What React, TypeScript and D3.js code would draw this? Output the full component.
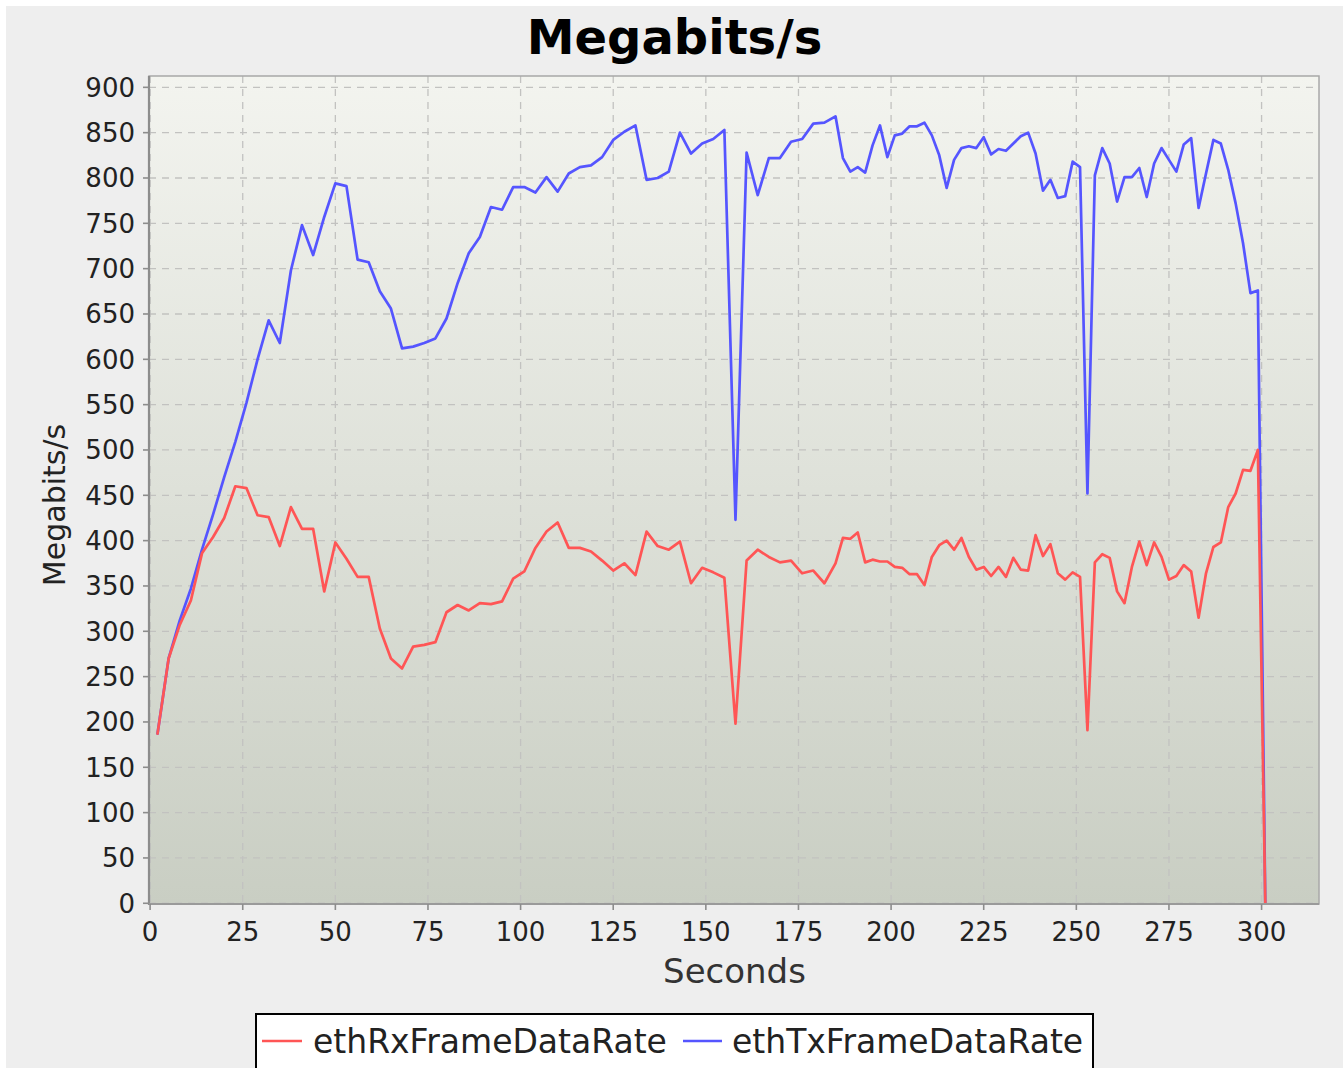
import React from 'react';
import * as d3 from 'd3';

const seconds = [
  2, 5, 8, 11, 14, 17, 20, 23, 26, 29,
  32, 35, 38, 41, 44, 47, 50, 53, 56, 59,
  62, 65, 68, 71, 74, 77, 80, 83, 86, 89,
  92, 95, 98, 101, 104, 107, 110, 113, 116, 119,
  122, 125, 128, 131, 134, 137, 140, 143, 146, 149,
  152, 155, 158, 161, 164, 167, 170, 173, 176, 179,
  182, 185,
  187, 189, 191, 193, 195, 197, 199, 201,
  203, 205, 207, 209, 211, 213, 215, 217, 219, 221,
  223, 225, 227, 229, 231, 233, 235, 237, 239, 241,
  243, 245, 247, 249, 251, 253, 255, 257, 259, 261,
  263, 265, 267, 269, 271, 273, 275, 277, 279, 281,
  283, 285, 287, 289, 291, 293, 295, 297, 299, 301,
];

const ethRxFrameDataRate = [
  187, 270, 307, 334, 386, 404, 425, 460, 458, 428,
  426, 394, 437, 413, 413, 344, 398, 380, 360, 360,
  303, 270, 259, 283, 285, 288, 321, 329, 323, 331,
  330, 333, 358, 366, 392, 410, 420, 392, 392, 388,
  378, 367, 375, 362, 410, 394, 390, 399, 353, 370,
  365, 359, 198, 378, 390, 382, 376, 378, 364, 367,
  353, 375,
  403, 402, 409, 376, 379, 377, 377, 371,
  370, 363, 363, 351, 382, 395, 400, 390, 403, 382,
  368, 371, 361, 371, 360, 381, 368, 367, 406, 383,
  396, 364, 357, 365, 360, 191, 376, 385, 381, 344,
  331, 371, 399, 373, 398, 382, 357, 361, 373, 366,
  315, 364, 393, 398, 437, 452, 478, 477, 500, 0,
];

const ethTxFrameDataRate = [
  187, 270, 312, 347, 390, 429, 470, 509, 552, 600,
  643, 618, 698, 748, 715, 757, 794, 791, 710, 707,
  675, 656, 612, 614, 618, 623, 645, 684, 717, 735,
  768, 765, 790, 790, 784, 801, 785, 805, 812, 814,
  823, 842, 851, 858, 798, 800, 807, 850, 827, 838,
  843, 853, 423, 828, 781, 822, 822, 840, 843, 860,
  861, 868,
  822, 807, 812, 806, 836, 858, 823, 847,
  849, 857, 857, 861, 847, 825, 789, 820, 833, 835,
  833, 845, 826, 832, 830, 838, 846, 850, 827, 786,
  798, 778, 780, 818, 812, 452, 803, 833, 816, 774,
  801, 801, 811, 779, 816, 833, 820, 807, 837, 844,
  767, 805, 842, 838, 809, 772, 728, 673, 676, 0,
];

const xTicks = [0, 25, 50, 75, 100, 125, 150, 175, 200, 225, 250, 275, 300];
const yTicks = [0, 50, 100, 150, 200, 250, 300, 350, 400, 450, 500, 550, 600, 650, 700, 750, 800, 850, 900];
const seriesNames = ['ethRxFrameDataRate', 'ethTxFrameDataRate'];
const seriesColors = ['#FF5555', '#5555FF'];
const titleText = 'Megabits/s';
const xLabel = 'Seconds';
const yLabel = 'Megabits/s';

const FONT = '"DejaVu Sans", sans-serif';

export default function App() {
  const W = 1343;
  const H = 1068;
  const left = 149, right = 1319, top = 76, bottom = 904;
  const x = d3.scaleLinear().domain([-0.3, 315.5]).range([left, right]);
  const y = d3.scaleLinear().domain([-0.8, 912.5]).range([bottom, top]);

  const series = [ethRxFrameDataRate, ethTxFrameDataRate];
  const line = d3.line<number>()
    .x((_, i) => x(seconds[i]))
    .y((d) => y(d));

  const drawOrder = [1, 0];

  return (
    <svg width={W} height={H} style={{ position: 'absolute', left: 0, top: 0, display: 'block' }}
      fontFamily={FONT}>
      <defs>
        <linearGradient id="plotBg" x1="0" y1="0" x2="0" y2="1">
          <stop offset="0" stopColor="#f3f4ef" />
          <stop offset="1" stopColor="#c9cec3" />
        </linearGradient>
        <clipPath id="plotClip">
          <rect x={left} y={top} width={right - left} height={bottom - top} />
        </clipPath>
      </defs>
      <rect x={0} y={0} width={W} height={H} fill="#ffffff" />
      <rect x={6} y={6} width={W - 6} height={H - 6} fill="#eeeeee" />

      <text x={674.5} y={54} textAnchor="middle" fontSize={48} fontWeight="bold" fill="#000">{titleText}</text>

      <rect x={left} y={top} width={right - left} height={bottom - top} fill="url(#plotBg)" />

      {/* gridlines */}
      <g stroke="#c2c2c0" strokeWidth={1.3} strokeDasharray="7,6" fill="none">
        {yTicks.map((t) => (
          <line key={'gy' + t} x1={left} x2={right} y1={y(t)} y2={y(t)} />
        ))}
        {xTicks.map((t) => (
          <line key={'gx' + t} x1={x(t)} x2={x(t)} y1={top} y2={bottom} />
        ))}
      </g>

      {/* series */}
      <g clipPath="url(#plotClip)">
        {drawOrder.map((si) => (
          <path key={si} d={line(series[si]) || ''} fill="none" stroke={seriesColors[si]}
            strokeWidth={2.7} strokeLinejoin="round" strokeLinecap="round" />
        ))}
      </g>

      {/* plot outline */}
      <rect x={left} y={top} width={right - left} height={bottom - top} fill="none" stroke="#a8a8a8" strokeWidth={1.5} />
      <line x1={left} x2={left} y1={top} y2={bottom + 1} stroke="#8c8c8c" strokeWidth={2.2} />
      <line x1={left} x2={right} y1={bottom} y2={bottom} stroke="#9a9a9a" strokeWidth={2} />

      {/* y axis ticks & labels */}
      <g>
        {yTicks.map((t) => (
          <g key={'yt' + t}>
            <line x1={left - 6} x2={left} y1={y(t)} y2={y(t)} stroke="#8c8c8c" strokeWidth={1.6} />
            <text x={135} y={y(t) + 9.5} textAnchor="end" fontSize={26} fill="#222">{t}</text>
          </g>
        ))}
      </g>

      {/* x axis ticks & labels */}
      <g>
        {xTicks.map((t) => (
          <g key={'xt' + t}>
            <line x1={x(t)} x2={x(t)} y1={bottom} y2={bottom + 6} stroke="#8c8c8c" strokeWidth={1.6} />
            <text x={x(t)} y={941} textAnchor="middle" fontSize={26} fill="#222">{t}</text>
          </g>
        ))}
      </g>

      <text x={734.5} y={983} textAnchor="middle" fontSize={34} fill="#333">{xLabel}</text>
      <text transform={`translate(65, 505) rotate(-90)`} textAnchor="middle" fontSize={30} fill="#222">{yLabel}</text>

      {/* legend */}
      <rect x={256} y={1014} width={837} height={70} fill="#ffffff" stroke="#000" strokeWidth={2} />
      <line x1={262} x2={302} y1={1041} y2={1041} stroke={seriesColors[0]} strokeWidth={2.7} />
      <text x={313} y={1053} fontSize={33} fill="#222">{seriesNames[0]}</text>
      <line x1={683} x2={722} y1={1041} y2={1041} stroke={seriesColors[1]} strokeWidth={2.7} />
      <text x={732} y={1053} fontSize={33} fill="#222">{seriesNames[1]}</text>
    </svg>
  );
}
